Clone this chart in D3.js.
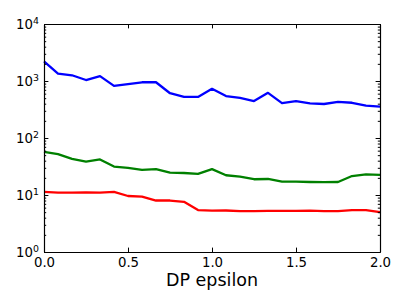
<!DOCTYPE html>
<html><head>
<meta charset="utf-8">
<script src="https://d3js.org/d3.v7.min.js"></script>
<style>
  body { margin: 0; background: #fff; }
  svg { font-family: "DejaVu Sans", sans-serif; }
  .axis .domain { stroke: #000; stroke-width: 1.1px; }
  .axis line { stroke: #000; stroke-width: 1px; }
  .axis text { fill: #000; font-size: 13.3px; font-family: "DejaVu Sans", sans-serif; }
  .series { fill: none; stroke-width: 2.3px; stroke-linejoin: round; }
</style>
</head>
<body>
<svg id="chart" width="407" height="305"></svg>
<script>
// x positions: DP epsilon from 0 to 2 in steps of 1/12
const epsilon = d3.range(25).map(i => i * 2 / 24);

const blueVals = [2200, 1350, 1260, 1040, 1220, 820, 880, 950, 950, 610, 525, 525, 730,
                  545, 505, 445, 620, 410, 445, 405, 395, 430, 415, 370, 355];
const greenVals = [57, 52, 43, 38.5, 42, 31.5, 30, 27.5, 28.5, 24.6, 24.3, 23.4, 28.5,
                   22.2, 21, 18.9, 19.1, 17.1, 17.1, 16.9, 16.8, 16.9, 21.5, 23, 22.6];
const redVals = [11.3, 11.0, 11.0, 11.1, 11.0, 11.3, 9.6, 9.4, 8.0, 8.0, 7.6, 5.45, 5.3,
                 5.35, 5.2, 5.2, 5.25, 5.25, 5.25, 5.3, 5.2, 5.2, 5.45, 5.45, 5.0];

const seriesList = [
  { values: blueVals, color: "#0000ff" },
  { values: greenVals, color: "#008000" },
  { values: redVals, color: "#ff0000" }
];

const xTicks = [0, 0.5, 1.0, 1.5, 2.0];
const yMajor = [1, 10, 100, 1000, 10000];
const yExp = ["0", "1", "2", "3", "4"];

const svg = d3.select("#chart");
const margin = { top: 24, right: 27, bottom: 53, left: 44 };
const width = +svg.attr("width") - margin.left - margin.right;
const height = +svg.attr("height") - margin.top - margin.bottom;

const x = d3.scaleLinear().domain([0, 2]).range([0, width]);
const y = d3.scaleLog().domain([1, 10000]).range([height, 0]);

const g = svg.append("g").attr("transform", "translate(" + margin.left + "," + margin.top + ")");

// minor log ticks
let yMinor = [];
yMajor.slice(0, -1).forEach(d => { for (let k = 2; k < 10; k++) yMinor.push(d * k); });

// lines
const line = d3.line().x((d, i) => x(epsilon[i])).y(d => y(d));
seriesList.forEach(s => {
  g.append("path").datum(s.values)
    .attr("class", "series")
    .attr("stroke", s.color)
    .attr("d", line);
});

// axes, ticks pointing inward on all four sides
const major = 4.4, minor = 2.2;

g.append("g").attr("class", "axis")
  .attr("transform", "translate(0," + height + ")")
  .call(d3.axisBottom(x).tickValues(xTicks).tickSizeInner(-major).tickSizeOuter(0)
        .tickPadding(5.2).tickFormat(d3.format(".1f")));

g.append("g").attr("class", "axis")
  .call(d3.axisTop(x).tickValues(xTicks).tickSizeInner(-major).tickSizeOuter(0).tickFormat(""));

g.append("g").attr("class", "axis")
  .call(d3.axisLeft(y).tickValues(yMinor).tickSizeInner(-minor).tickSizeOuter(0).tickFormat(""));
g.append("g").attr("class", "axis")
  .attr("transform", "translate(" + width + ",0)")
  .call(d3.axisRight(y).tickValues(yMinor).tickSizeInner(-minor).tickSizeOuter(0).tickFormat(""));

const yLeft = g.append("g").attr("class", "axis")
  .call(d3.axisLeft(y).tickValues(yMajor).tickSizeInner(-major).tickSizeOuter(0).tickFormat(""));
g.append("g").attr("class", "axis")
  .attr("transform", "translate(" + width + ",0)")
  .call(d3.axisRight(y).tickValues(yMajor).tickSizeInner(-major).tickSizeOuter(0).tickFormat(""));

// y labels as 10^n
yLeft.selectAll(".tick").each(function(d, i) {
  const t = d3.select(this).append("text")
    .attr("x", -5)
    .attr("y", 4.9)
    .attr("text-anchor", "end");
  t.append("tspan").text("10");
  t.append("tspan").attr("dy", -5.5).style("font-size", "9.4px").text(yExp[i]);
});

// x label
svg.append("text")
  .attr("x", margin.left + width / 2)
  .attr("y", 286)
  .attr("text-anchor", "middle")
  .style("font-size", "17.5px")
  .text("DP epsilon");
</script>
</body></html>
